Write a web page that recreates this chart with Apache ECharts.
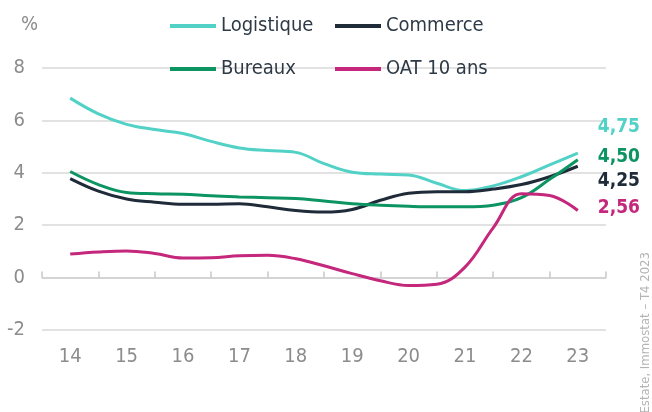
<!DOCTYPE html>
<html>
<head>
<meta charset="utf-8">
<script src="https://cdn.jsdelivr.net/npm/echarts@6/dist/echarts.min.js"></script>
<style>
  html, body { margin: 0; padding: 0; background: #fff; }
  #chart { width: 652px; height: 412px; }
</style>
</head>
<body>
<div id="chart"></div>
<script>
// années affichées sur l'axe
const years = ['14', '15', '16', '17', '18', '19', '20', '21', '22', '23'];
// points semestriels (position sur l'axe des années)
const xPoints = [14, 14.5, 15, 15.5, 16, 16.5, 17, 17.5, 18, 18.5, 19, 19.5, 20, 20.5, 21, 21.5, 22, 22.5, 23];

const logistique = [6.85, 6.25, 5.85, 5.65, 5.5, 5.2, 4.95, 4.85, 4.78, 4.35, 4.02, 3.95, 3.92, 3.6, 3.32, 3.5, 3.85, 4.3, 4.75];
const commerce   = [3.78, 3.3, 3.0, 2.88, 2.8, 2.8, 2.82, 2.7, 2.56, 2.5, 2.6, 2.95, 3.22, 3.28, 3.28, 3.38, 3.55, 3.85, 4.25];
const bureaux    = [4.05, 3.55, 3.25, 3.2, 3.18, 3.12, 3.08, 3.05, 3.02, 2.92, 2.82, 2.76, 2.72, 2.7, 2.7, 2.76, 3.05, 3.75, 4.5];
const oat        = [0.9, 0.98, 1.02, 0.92, 0.75, 0.76, 0.83, 0.85, 0.72, 0.45, 0.15, -0.12, -0.3, -0.25, 0.4, 1.9, 3.2, 3.13, 2.56];

const yTicks = { min: -2, max: 8, interval: 2 };
const source = 'Real Estate, Immostat – T4 2023';

const FONT = '"DejaVu Sans Condensed", "Roboto", sans-serif';
const GREY = '#8c8c8c';

function pairs(values) {
    return values.map((v, i) => [xPoints[i], v]);
}

function makeSeries(name, values, color, dy) {
    return {
        name: name,
        type: 'line',
        xAxisIndex: 2,
        data: pairs(values),
        smooth: 0.4,
        showSymbol: false,
        symbol: 'none',
        lineStyle: { width: 3, color: color },
        itemStyle: { color: color },
        endLabel: {
            show: true,
            distance: 20,
            offset: [0, dy],
            color: color,
            fontFamily: FONT,
            fontWeight: 'bold',
            fontSize: 19,
            formatter: p => p.value[1].toFixed(2).replace('.', ',')
        }
    };
}

function legendItem(name, left, top) {
    return {
        data: [name],
        left: left,
        top: top,
        padding: 0,
        icon: 'rect',
        itemWidth: 46,
        itemHeight: 4,
        textStyle: { fontFamily: FONT, fontSize: 20, color: '#2e3a46' }
    };
}

const myChart = echarts.init(document.getElementById('chart'));

let option = {
    animation: false,
    grid: { left: 42, right: 46, top: 68, bottom: 82, containLabel: false },
    legend: [
        legendItem('Logistique', 170, 16),
        legendItem('Commerce', 335, 16),
        legendItem('Bureaux', 170, 59),
        legendItem('OAT 10 ans', 335, 59)
    ],
    xAxis: [
        {
            // étiquettes en bas
            type: 'category',
            data: years,
            position: 'bottom',
            axisLine: { show: false, onZero: false },
            axisTick: { show: false },
            axisLabel: { color: GREY, fontFamily: FONT, fontSize: 20, margin: 17 }
        },
        {
            // ligne du zéro avec graduations
            type: 'category',
            data: years,
            position: 'bottom',
            axisLine: { show: true, onZero: true, lineStyle: { color: '#cfcfcf', width: 1.5 } },
            axisTick: { show: true, inside: true, length: 6, lineStyle: { color: '#c8c8c8', width: 1.5 } },
            axisLabel: { show: false }
        },
        {
            // axe de valeurs caché pour placer les points semestriels
            type: 'value',
            min: 13.5,
            max: 23.5,
            show: false
        }
    ],
    yAxis: {
        type: 'value',
        min: yTicks.min,
        max: yTicks.max,
        interval: yTicks.interval,
        name: '%',
        nameGap: 33,
        nameTextStyle: { color: GREY, fontFamily: FONT, fontSize: 20, align: 'right', padding: [0, 4, 0, 0] },
        axisLine: { show: false },
        axisTick: { show: false },
        axisLabel: { color: GREY, fontFamily: FONT, fontSize: 20, margin: 17 },
        splitLine: { show: true, lineStyle: { color: '#d8d8d8', width: 1.5 } }
    },
    graphic: [
        {
            type: 'text',
            x: 646,
            y: 252,
            rotation: Math.PI / 2,
            style: {
                text: source,
                fill: '#b4b4b4',
                font: '13px ' + FONT,
                align: 'right',
                verticalAlign: 'middle'
            }
        }
    ],
    series: [
        makeSeries('Logistique', logistique, '#52d1c6', -26),
        makeSeries('Commerce', commerce, '#1f2b39', 15),
        makeSeries('Bureaux', bureaux, '#0c9462', -3),
        makeSeries('OAT 10 ans', oat, '#c4277b', -2)
    ]
};

option && myChart.setOption(option);
</script>
</body>
</html>
